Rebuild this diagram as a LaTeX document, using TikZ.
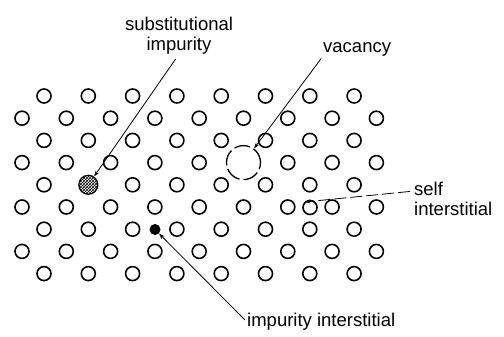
\documentclass[tikz,border=0pt]{standalone}
\usepackage{fontspec}
\setmainfont{Liberation Sans}
\usetikzlibrary{patterns,calc,arrows.meta}
\begin{document}
\begin{tikzpicture}[x=1pt,y=-1pt,
  atom/.style={circle,draw,line width=1.6pt,minimum size=14pt,inner sep=0pt},
  lbl/.style={font=\fontsize{18.5}{19.5}\selectfont,inner sep=0pt},
  leader/.style={line width=0.8pt,-{Stealth[length=6pt,width=4pt]}},
]
\useasboundingbox (0,0) rectangle (504,337);

% lattice: even rows (8 sites) and odd rows (9 sites)
\foreach \k in {0,2,6,8}
  \foreach \j in {0,...,7}
    \node[atom] (a-\k-\j) at ({44+44.3*\j},{96+22.2*\k}) {};
\foreach \j in {0,2,3,4,5,6,7}
  \node[atom] (a-4-\j) at ({44+44.3*\j},{96+22.2*4}) {};
\foreach \k in {1,5,7}
  \foreach \j in {0,...,8}
    \node[atom] (a-\k-\j) at ({22+44.3*\j},{96+22.2*\k}) {};
\foreach \j in {0,1,2,3,4,6,7,8}
  \node[atom] (a-3-\j) at ({22+44.3*\j},{96+22.2*3}) {};

% defects
\node[circle,draw,line width=1.2pt,minimum size=19pt,inner sep=0pt,
      pattern=crosshatch] (sub) at (88.3,184.8) {};
\node[circle,draw,line width=1.3pt,minimum size=34pt,inner sep=0pt,
      dash pattern=on 16pt off 4pt] (vac) at (243.5,162.6) {};
\node[atom] (si) at (310,207.5) {};
\node[circle,fill,minimum size=11pt,inner sep=0pt] (imp) at (155,229.5) {};

% labels
\node[lbl,align=center,anchor=north] (subl) at (179,17) {substitutional\\impurity};
\node[lbl,anchor=west] (vacl) at (323,49) {vacancy};
\node[lbl,align=left,anchor=north west] (sil) at (414,182) {self\\interstitial};
\node[lbl,anchor=west] (iil) at (247,322) {impurity interstitial};

% leaders
\draw[leader,shorten <=6pt] (subl.south) -- (sub);
\draw[leader,shorten <=3pt] (vacl.south west) -- (vac);
\draw[leader,dash pattern=on 12pt off 4pt,shorten <=4pt]
  ($(sil.north west)!0.27!(sil.south west)$) -- (si.north west);
\draw[leader,shorten <=3pt] (iil.west) -- (imp);
\end{tikzpicture}
\end{document}
